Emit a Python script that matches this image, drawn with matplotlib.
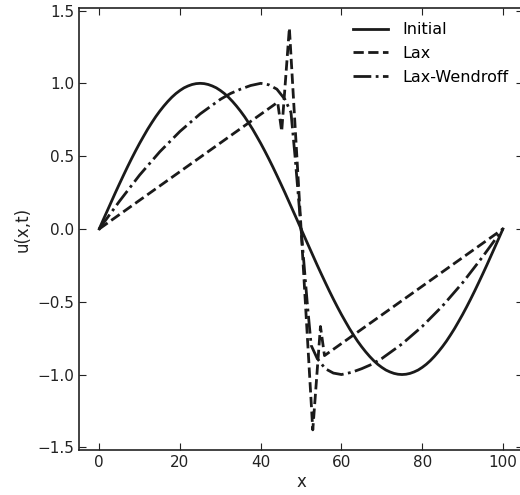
import matplotlib
matplotlib.use("Agg")
import matplotlib.pyplot as plt

# Initial condition (grid step 1)
x_init = list(range(0, 101))
u_init = [0.0, 0.063, 0.125, 0.187, 0.249, 0.309, 0.368, 0.426, 0.482, 0.536,
          0.588, 0.637, 0.685, 0.729, 0.771, 0.809, 0.844, 0.876, 0.905, 0.930,
          0.951, 0.969, 0.982, 0.992, 0.998, 1.0, 0.998, 0.992, 0.982, 0.969,
          0.951, 0.930, 0.905, 0.876, 0.844, 0.809, 0.771, 0.729, 0.685, 0.637,
          0.588, 0.536, 0.482, 0.426, 0.368, 0.309, 0.249, 0.187, 0.125, 0.063,
          0.0, -0.063, -0.125, -0.187, -0.249, -0.309, -0.368, -0.426, -0.482, -0.536,
          -0.588, -0.637, -0.685, -0.729, -0.771, -0.809, -0.844, -0.876, -0.905, -0.930,
          -0.951, -0.969, -0.982, -0.992, -0.998, -1.0, -0.998, -0.992, -0.982, -0.969,
          -0.951, -0.930, -0.905, -0.876, -0.844, -0.809, -0.771, -0.729, -0.685, -0.637,
          -0.588, -0.536, -0.482, -0.426, -0.368, -0.309, -0.249, -0.187, -0.125, -0.063,
          0.0]

# Lax scheme (dashed)
x_lax = [0, 44.2, 45.2, 47.1, 52.9, 54.8, 55.8, 100]
u_lax = [0.0, 0.87, 0.67, 1.38, -1.38, -0.67, -0.87, 0.0]

# Lax-Wendroff scheme (dash-dot)
x_lw = [0, 2.5, 5, 7.5, 10, 12.5, 15, 17.5, 20, 22.5, 25, 27.5, 30, 32.5, 35, 37.5,
        40, 42, 44, 46, 47.5, 48.5, 50, 51.5, 52.5, 54, 56, 58, 60, 62.5, 65, 67.5,
        70, 72.5, 75, 77.5, 80, 82.5, 85, 87.5, 90, 92.5, 95, 97.5, 100]
u_lw = [0.0, 0.095, 0.19, 0.28, 0.37, 0.45, 0.53, 0.60, 0.67, 0.73, 0.79, 0.84,
        0.89, 0.93, 0.96, 0.985, 1.0, 0.99, 0.96, 0.89, 0.8, 0.5, 0.0, -0.5, -0.8,
        -0.89, -0.96, -0.99, -1.0, -0.985, -0.96, -0.93, -0.89, -0.84, -0.79, -0.73,
        -0.67, -0.60, -0.53, -0.45, -0.37, -0.28, -0.19, -0.095, 0.0]

fig = plt.figure(figsize=(5.2, 4.95), dpi=100)
ax = fig.add_axes([0.152, 0.091, 0.854, 0.893])

lc = '#1a1a1a'
ax.plot(x_init, u_init, '-', color=lc, lw=2, label='Initial')
ax.plot(x_lax, u_lax, '--', color=lc, lw=2, label='Lax')
ax.plot(x_lw, u_lw, '-.', color=lc, lw=2, label='Lax-Wendroff')

ax.set_xlim(-5, 105)
ax.set_ylim(-1.518, 1.518)
ax.set_xticks([0, 20, 40, 60, 80, 100])
ax.set_yticks([-1.5, -1.0, -0.5, 0.0, 0.5, 1.0, 1.5])
ax.tick_params(direction='in', top=True, right=True, labelsize=11, length=5,
               color='#222222', labelcolor='#222222')
for s in ax.spines.values():
    s.set_color('#222222')
    s.set_linewidth(1.2)

ax.set_xlabel('x', fontsize=12, color='#222222', labelpad=2)
ax.set_ylabel('u(x,t)', fontsize=12, color='#222222')
ax.legend(loc='upper right', frameon=False, fontsize=11.5, handlelength=2.2,
          handletextpad=0.9, labelspacing=0.55)

fig.savefig('out.png', dpi=100)
